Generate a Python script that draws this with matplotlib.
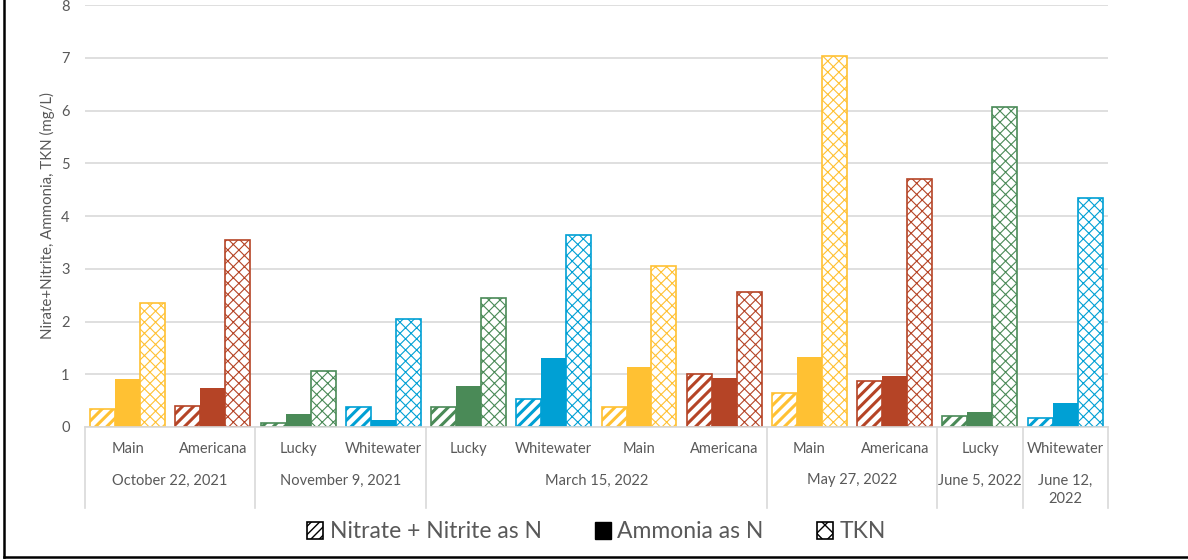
import numpy as np
import matplotlib
matplotlib.use("Agg")
import matplotlib.pyplot as plt
from matplotlib.patches import Patch
from matplotlib.lines import Line2D
import matplotlib.transforms as mtransforms

plt.rcParams['font.family'] = ['Lato', 'DejaVu Sans']

sites = ["Main", "Americana", "Lucky", "Whitewater", "Lucky", "Whitewater",
         "Main", "Americana", "Main", "Americana", "Lucky", "Whitewater"]
dates = ["October 22, 2021", "November 9, 2021", "March 15, 2022",
         "May 27, 2022", "June 5, 2022", "June 12,\n2022"]
date_sizes = [2, 2, 4, 2, 1, 1]

nitrate = [0.34, 0.40, 0.085, 0.38, 0.37, 0.54, 0.37, 1.00, 0.64, 0.87, 0.21, 0.18]
ammonia = [0.91, 0.74, 0.25, 0.14, 0.77, 1.31, 1.14, 0.93, 1.33, 0.97, 0.29, 0.45]
tkn = [2.35, 3.55, 1.07, 2.05, 2.45, 3.64, 3.05, 2.56, 7.03, 4.71, 6.06, 4.35]

site_colors = {"Main": "#FFC133", "Americana": "#B54426",
               "Lucky": "#4A8A57", "Whitewater": "#00A0D4"}

text_color = "#595959"
grid_color = "#D9D9D9"

fig = plt.figure(figsize=(11.88, 5.6), dpi=100)
ax = fig.add_axes([0.0715, 0.2375, 0.861, 0.7535])

x = np.arange(len(sites))
w = 0.293
cols = [site_colors[s] for s in sites]

with plt.rc_context({'hatch.linewidth': 2.2}):
    ax.bar(x - w, nitrate, w, facecolor='white', edgecolor=cols, hatch='///',
           linewidth=1.2, zorder=3)
ax.bar(x, ammonia, w, color=cols, linewidth=0, zorder=3)
with plt.rc_context({'hatch.linewidth': 0.8}):
    ax.bar(x + w, tkn, w, facecolor='white', edgecolor=cols, hatch='xxx',
           linewidth=1.2, zorder=3)

ax.set_xlim(-0.5, len(sites) - 0.5)
ax.set_ylim(0, 8)
ax.set_yticks(range(0, 9))
ax.tick_params(axis='y', length=0, labelsize=10.5, labelcolor=text_color, pad=11)
ax.grid(axis='y', color=grid_color, linewidth=1.2, zorder=0)
for s in ['top', 'right', 'left']:
    ax.spines[s].set_visible(False)
ax.spines['bottom'].set_color(grid_color)
ax.spines['bottom'].set_linewidth(1.2)
ax.spines['bottom'].set_zorder(4)

ax.set_xticks(x)
ax.set_xticklabels(sites)
ax.tick_params(axis='x', length=0, labelsize=10.5, labelcolor=text_color, pad=11)

ax.set_ylabel("Nirate+Nitrite, Ammonia, TKN (mg/L)", fontsize=10.8,
              color=text_color, labelpad=4)

trans = mtransforms.blended_transform_factory(ax.transData, ax.transAxes)
edges = np.concatenate([[0], np.cumsum(date_sizes)]) - 0.5
for e in edges:
    ax.plot([e, e], [0, -0.192], transform=trans, color=grid_color,
            linewidth=1.2, clip_on=False)
for i, d in enumerate(dates):
    cx = (edges[i] + edges[i + 1]) / 2
    ax.text(cx, -0.11, d, transform=trans, ha='center', va='top',
            fontsize=10.5, color=text_color, linespacing=1.45)

handles = [
    Patch(facecolor='white', edgecolor='black', hatch='////', linewidth=1.2),
    Patch(facecolor='black', edgecolor='black'),
    Patch(facecolor='white', edgecolor='black', hatch='xx', linewidth=1.2),
]
labels = ["Nitrate + Nitrite as N", "Ammonia as N", "TKN"]
fig.legend(handles, labels, loc='center', bbox_to_anchor=(0.502, 0.05),
           ncol=3, frameon=False, fontsize=16.5, labelcolor=text_color,
           handlelength=0.7, handleheight=0.7, handletextpad=0.3,
           columnspacing=2.3)

fig.add_artist(Line2D([0.003, 0.003], [0.0045, 1.0], color='black', linewidth=1.8))
fig.add_artist(Line2D([0.003, 1.0], [0.0045, 0.0045], color='black', linewidth=1.8))

fig.savefig("out.png", dpi=100)
